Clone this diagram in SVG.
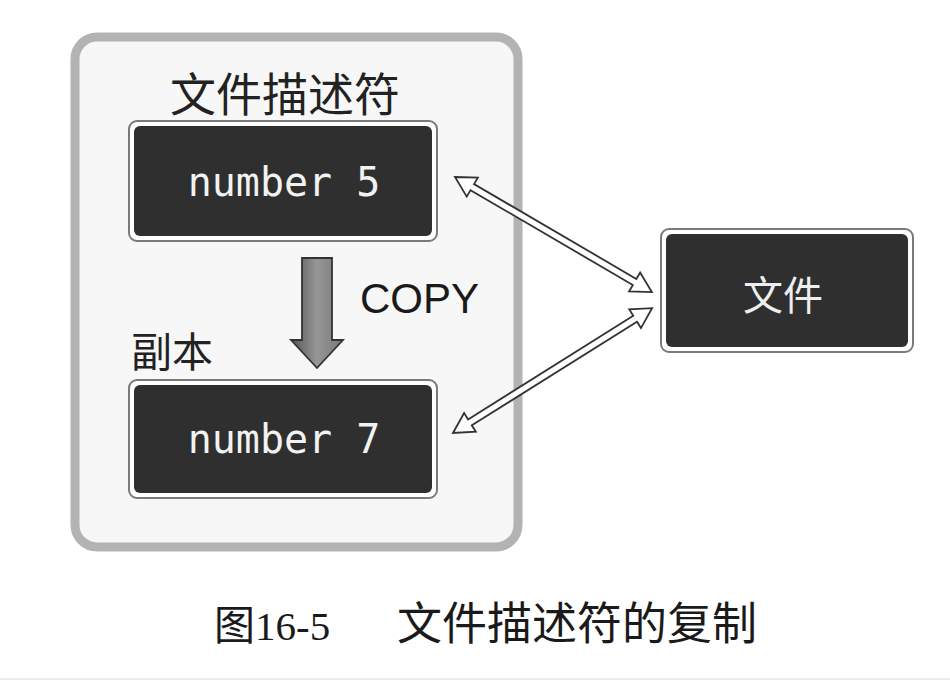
<svg xmlns="http://www.w3.org/2000/svg" width="950" height="680" viewBox="0 0 950 680">
  <defs>
    <linearGradient id="copyGrad" x1="0" y1="0" x2="1" y2="0">
      <stop offset="0" stop-color="#555555"/>
      <stop offset="0.5" stop-color="#979797"/>
      <stop offset="1" stop-color="#777777"/>
    </linearGradient>
  </defs>
  <style>
    .outerRing { fill: #ffffff; stroke: #7a7a7a; stroke-width: 2; }
    .dark { fill: #2f2f2f; }
    .mono { font-family: "DejaVu Sans Mono", "Liberation Mono", monospace; font-size: 40px; fill: #f2f2f2; text-anchor: middle; }
    .cjk { font-family: "Noto Sans CJK SC", sans-serif; fill: #222222; }
    .dbl { fill: #ffffff; stroke: #333333; stroke-width: 1.8; stroke-linejoin: miter; }
    .caption { font-family: "Liberation Serif", "Noto Sans CJK SC", serif; fill: #1a1a1a; }
  </style>
  <rect x="0" y="0" width="950" height="680" fill="#ffffff"/>
  <rect x="0" y="678" width="950" height="2" fill="#ececec"/>

  <g id="container">
    <rect x="75" y="37" width="443" height="510" rx="22" fill="#f7f7f7" stroke="#b3b3b3" stroke-width="9"/>
    <text class="cjk" x="170" y="111" font-size="46">文件描述符</text>
    <text class="cjk" x="131" y="367" font-size="41">副本</text>
  </g>

  <g id="fd5">
    <rect class="outerRing" x="129" y="121" width="308" height="120" rx="8"/>
    <rect class="dark" x="134" y="126" width="298" height="110" rx="6"/>
    <text class="mono" x="284" y="196">number 5</text>
  </g>

  <g id="fd7">
    <rect class="outerRing" x="129" y="380" width="308" height="118" rx="8"/>
    <rect class="dark" x="134" y="385" width="298" height="108" rx="6"/>
    <text class="mono" x="284" y="453">number 7</text>
  </g>

  <g id="file">
    <rect class="outerRing" x="661" y="229" width="252" height="123" rx="8"/>
    <rect class="dark" x="666" y="234" width="242" height="113" rx="6"/>
    <text x="783" y="310" font-size="40" text-anchor="middle" font-family="Noto Sans CJK SC, sans-serif" fill="#eeeeee">文件</text>
  </g>

  <g id="connectors">
    <polygon points="302,258 332,258 332,340 343,340 317,368 291,340 302,340" fill="url(#copyGrad)" stroke="#333333" stroke-width="1.8"/>
    <text x="360" y="313" font-family="Liberation Sans, Arial, sans-serif" font-size="42" fill="#1a1a1a">COPY</text>
    <polygon class="dbl" transform="translate(455,177) rotate(30.3)" points="0,0 20,-11 20,-3.5 208,-3.5 208,-11 228,0 208,11 208,3.5 20,3.5 20,11"/>
    <polygon class="dbl" transform="translate(453,433) rotate(-32.1)" points="0,0 20,-11 20,-3.5 215,-3.5 215,-11 235,0 215,11 215,3.5 20,3.5 20,11"/>
  </g>

  <g id="caption">
    <text class="caption" x="214" y="640" font-size="41">图16-5</text>
    <text class="caption" x="397" y="640" font-size="45">文件描述符的复制</text>
  </g>
</svg>
